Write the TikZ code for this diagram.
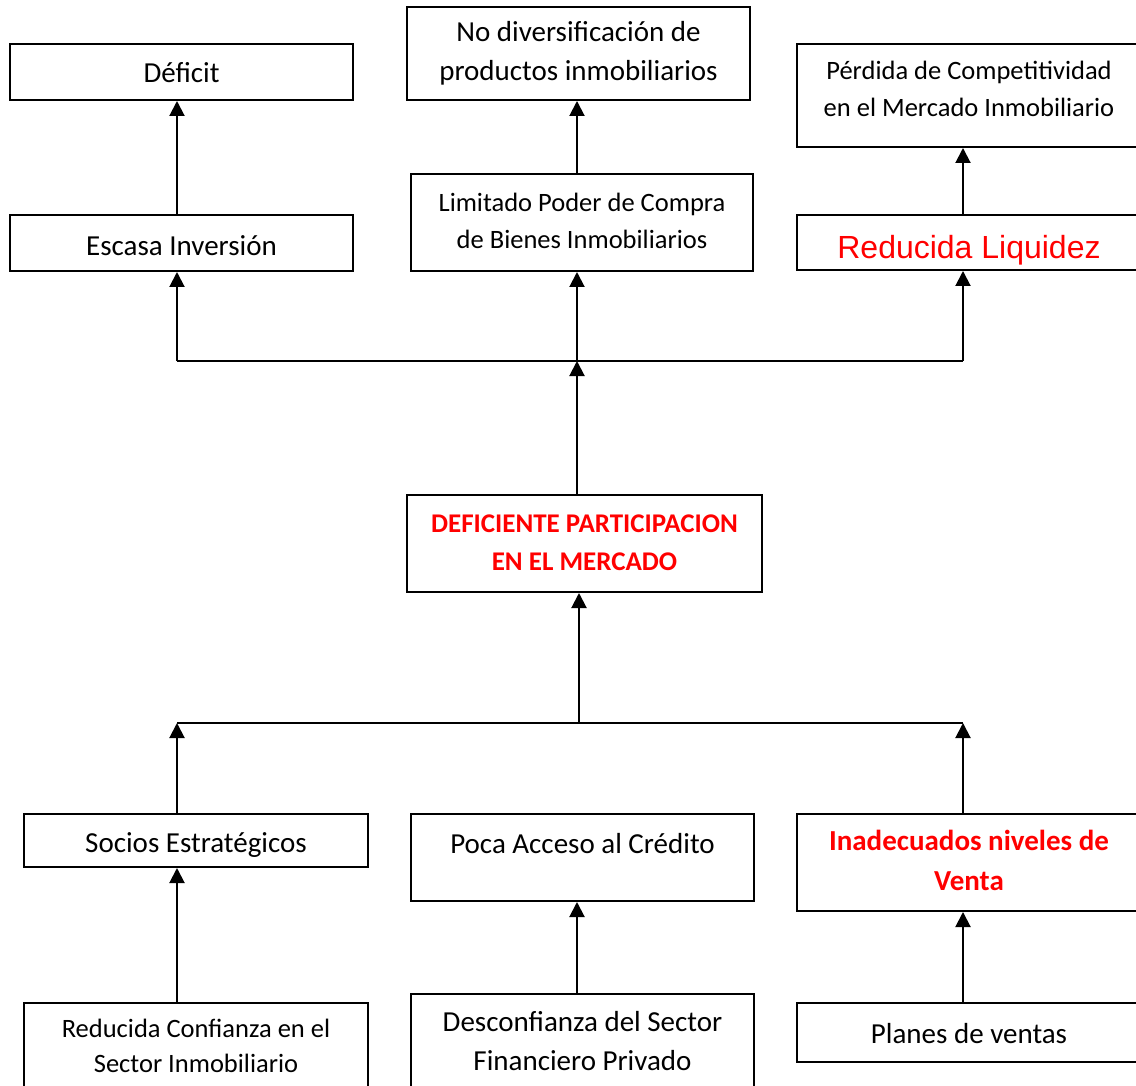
\documentclass[tikz,border=0pt]{standalone}
\usepackage{fontspec}
\setmainfont{Carlito}
\newfontfamily\arialfont{Liberation Sans}
\usetikzlibrary{arrows.meta}
\definecolor{alert}{RGB}{255,0,0}
% centred block of lines, and the same block moved up by #1 with no height of its own
\newcommand\cell[1]{\begin{tabular}{@{}c@{}}#1\end{tabular}}
\newcommand\liftcell[2]{\raisebox{#1}[0pt][0pt]{\cell{#2}}}

\begin{document}
\begin{tikzpicture}[x=1pt,y=-1pt,
  box/.style={draw, line width=2pt, rectangle, inner sep=0pt, anchor=center},
  sz/.style 2 args={minimum width=#1pt, minimum height=#2pt},
  big/.style={font=\fontsize{29}{39}\selectfont},
  small/.style={font=\fontsize{26.5}{37}\selectfont},
  conn/.style={line width=2pt, -{Triangle[width=15pt,length=15pt]}},
  bus/.style={line width=1.6pt}]
\useasboundingbox (0,0) rectangle (1136,1086);
\clip (0,0) rectangle (1136,1086);

% effects
\node[box,big,sz={343}{56}] (deficit) at (181.5,72) {\liftcell{-9pt}{Déficit}};
\node[box,big,sz={343}{93}] (nodiv) at (578.5,53.5) {\cell{No diversificación de\\productos inmobiliarios}};
\node[box,small,sz={344}{103}] (perdida) at (969,95.5) {\liftcell{-1.7pt}{Pérdida de Competitividad\\en el Mercado Inmobiliario}};
\node[box,big,sz={343}{56}] (escasa) at (181.5,243) {\liftcell{-10.8pt}{Escasa Inversión}};
\node[box,small,sz={342}{97}] (limitado) at (582,222.5) {\cell{Limitado Poder de Compra\\de Bienes Inmobiliarios}};
\node[box,font=\arialfont\fontsize{32}{38}\selectfont,text=alert,sz={344}{55}] (liquidez) at (969,242.5) {\liftcell{-14.4pt}{Reducida Liquidez}};

% central problem
\node[box,font=\bfseries\fontsize{27}{38}\selectfont,text=alert,sz={355}{97}] (deficiente) at (584.5,543.5) {\cell{DEFICIENTE PARTICIPACION\\EN EL MERCADO}};

% causes
\node[box,big,sz={344}{53}] (socios) at (196,840.5) {\liftcell{-10.8pt}{Socios Estratégicos}};
\node[box,big,sz={343}{87}] (poca) at (582.5,857.5) {\liftcell{5.7pt}{Poca Acceso al Crédito}};
\node[box,font=\bfseries\fontsize{29}{40}\selectfont,text=alert,sz={344}{97}] (inadec) at (969,862.5) {\cell{Inadecuados niveles de\\Venta}};
\node[box,font=\fontsize{26.5}{35}\selectfont,sz={344}{89}] (confianza) at (196,1047.5) {\cell{Reducida Confianza en el\\Sector Inmobiliario}};
\node[box,big,sz={343}{99}] (desconf) at (582.5,1043.5) {\cell{Desconfianza del Sector\\Financiero Privado}};
\node[box,big,sz={344}{59}] (planes) at (969,1032.5) {\liftcell{-9pt}{Planes de ventas}};

% column guides and bus lines
\coordinate (cL) at (177,0);
\coordinate (cM) at (577,0);
\coordinate (cR) at (963,0);
\coordinate (busT) at (577,361);
\coordinate (busB) at (579,723);

\draw[bus] (busT -| cL) -- (busT -| cR);
\draw[bus] (busB -| cL) -- (busB -| cR);

% upper tree
\draw[conn] (deficiente.north -| cM) -- (busT);
\draw[conn] (busT -| cL) -- (escasa.south -| cL);
\draw[conn] (busT) -- (limitado.south -| cM);
\draw[conn] (busT -| cR) -- (liquidez.south -| cR);
\draw[conn] (escasa.north -| cL) -- (deficit.south -| cL);
\draw[conn] (limitado.north -| cM) -- (nodiv.south -| cM);
\draw[conn] (liquidez.north -| cR) -- (perdida.south -| cR);

% lower tree
\draw[conn] (busB) -- (deficiente.south -| busB);
\draw[conn] (socios.north -| cL) -- (busB -| cL);
\draw[conn] (inadec.north -| cR) -- (busB -| cR);
\draw[conn] (confianza.north -| cL) -- (socios.south -| cL);
\draw[conn] (desconf.north -| cM) -- (poca.south -| cM);
\draw[conn] (planes.north -| cR) -- (inadec.south -| cR);
\end{tikzpicture}
\end{document}
